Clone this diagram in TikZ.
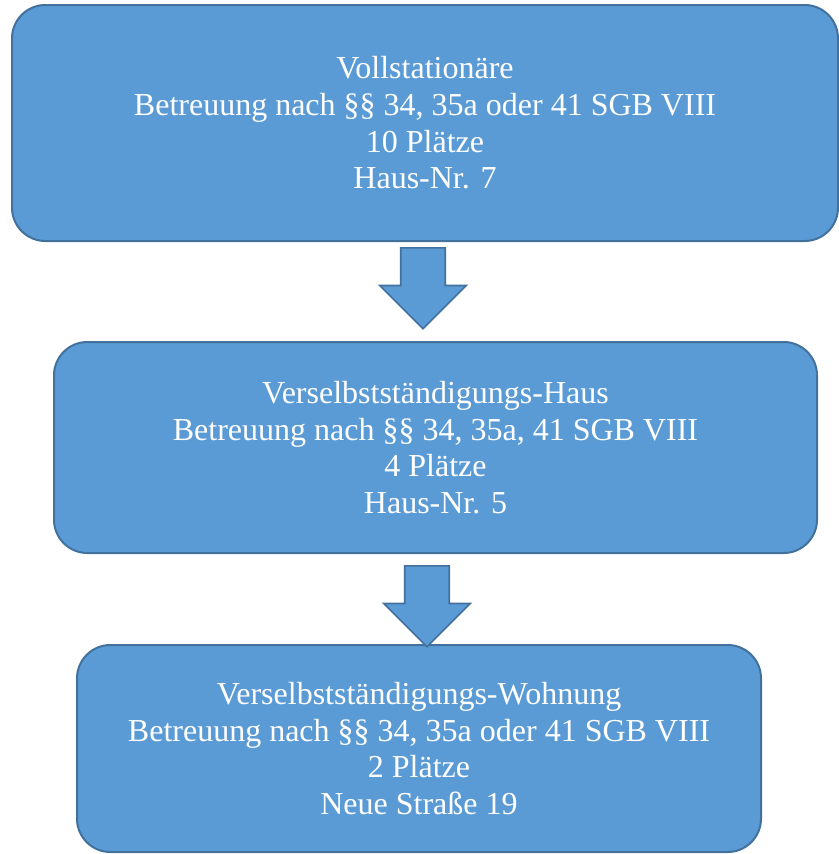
\documentclass[tikz,border=0pt]{standalone}
\usepackage{fontspec}
\setmainfont{Liberation Serif}
\usetikzlibrary{shapes.arrows}
\begin{document}
\begin{tikzpicture}[x=0.75pt,y=-0.75pt,
  box/.style={rectangle,rounded corners=25pt,fill=boxcolor,draw=linecolor,line width=1.5pt,
    text=textcolor,align=center,font=\fontsize{24}{27.5}\selectfont,inner sep=0pt},
  pfeil/.style={single arrow,fill=boxcolor,draw=linecolor,line width=1.2pt,inner sep=16.1pt,
    minimum height=60.75pt,minimum width=63.75pt,single arrow head extend=15.75pt,
    rotate=-90,anchor=tail}]
\definecolor{boxcolor}{RGB}{91,155,213}
\definecolor{linecolor}{RGB}{65,113,156}
\definecolor{textcolor}{RGB}{255,255,255}
\useasboundingbox (0,0) rectangle (839,854);
\node (haus7) at (425,123) [box,minimum width=619.5pt,minimum height=177pt]
  {Vollstation\"are\\Betreuung nach \S\S\ 34, 35a oder 41 SGB VIII\\10 Pl\"atze\\Haus-Nr. 7};
\node (haus5) at (435.5,447.5) [box,minimum width=572.25pt,minimum height=158.25pt]
  {Verselbstst\"andigungs-Haus\\Betreuung nach \S\S\ 34, 35a, 41 SGB VIII\\4 Pl\"atze\\Haus-Nr. 5};
\node (wohnung) at (419,748.5) [box,minimum width=513pt,minimum height=155.25pt]
  {Verselbstst\"andigungs-Wohnung\\Betreuung nach \S\S\ 34, 35a oder 41 SGB VIII\\2 Pl\"atze\\Neue Stra\ss e 19};
\node (pfeil1) at (423,247) [pfeil] {};
\node (pfeil2) at (427,565) [pfeil] {};
\end{tikzpicture}
\end{document}
